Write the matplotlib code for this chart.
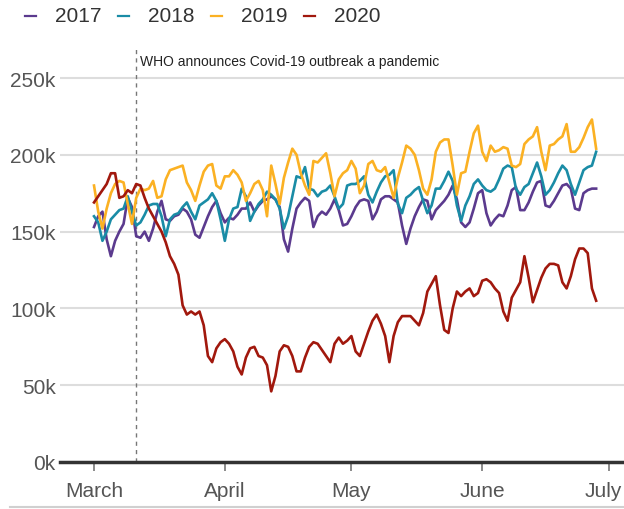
import matplotlib
matplotlib.use('Agg')
import matplotlib.pyplot as plt
import matplotlib.dates as mdates
from matplotlib.lines import Line2D
from matplotlib.transforms import ScaledTranslation
import pandas as pd

plt.rcParams['font.family'] = ['Liberation Sans', 'DejaVu Sans']

# daily values (thousands) from 1 March
days = pd.date_range('2020-03-01', periods=120, freq='D')

y2017 = [153, 160, 163, 145, 134, 144, 150, 155, 172, 166,
         147, 146, 150, 144, 152, 163, 170, 158, 157, 160,
         161, 165, 163, 158, 148, 146, 153, 160, 166, 170,
         162, 156, 159, 158, 161, 165, 165, 169, 163, 167,
         170, 171, 173, 171, 166, 145, 137, 152, 165, 169,
         172, 170, 153, 160, 163, 161, 165, 171, 164, 154,
         155, 160, 166, 170, 171, 170, 158, 163, 171, 173,
         173, 171, 169, 154, 142, 152, 160, 166, 171, 170,
         158, 164, 167, 170, 174, 180, 171, 156, 153, 156,
         165, 175, 177, 162, 154, 158, 161, 160, 167, 177,
         179, 164, 164, 169, 176, 182, 183, 167, 166, 170,
         175, 180, 181, 178, 165, 164, 175, 177, 178, 178]

y2018 = [160, 156, 144, 150, 158, 161, 164, 165, 173, 163,
         154, 156, 161, 167, 168, 168, 160, 147, 158, 161,
         162, 166, 169, 163, 158, 167, 169, 171, 175, 170,
         158, 144, 158, 165, 166, 178, 173, 157, 163, 168,
         171, 176, 174, 171, 165, 152, 160, 173, 186, 185,
         192, 178, 177, 173, 176, 177, 180, 173, 165, 168,
         180, 181, 181, 183, 186, 174, 169, 176, 182, 186,
         187, 190, 168, 162, 172, 174, 177, 179, 170, 162,
         167, 178, 178, 183, 189, 183, 167, 157, 167, 173,
         181, 184, 180, 177, 176, 178, 184, 191, 193, 192,
         178, 174, 179, 181, 188, 195, 186, 174, 177, 182,
         188, 193, 190, 181, 174, 182, 190, 192, 193, 202]

y2019 = [180, 163, 152, 165, 175, 181, 183, 182, 168, 155,
         172, 178, 177, 178, 183, 172, 173, 184, 190, 191,
         192, 193, 182, 177, 170, 180, 189, 193, 194, 180,
         178, 186, 186, 190, 187, 182, 170, 175, 181, 183,
         177, 160, 193, 181, 168, 185, 195, 204, 200, 188,
         180, 174, 196, 195, 198, 201, 188, 173, 184, 188,
         190, 196, 191, 175, 180, 194, 196, 190, 189, 192,
         182, 172, 185, 195, 206, 204, 200, 190, 178, 174,
         184, 202, 208, 210, 210, 193, 174, 188, 189, 202,
         214, 219, 202, 196, 206, 202, 203, 205, 204, 193,
         192, 194, 207, 210, 212, 218, 202, 190, 206, 207,
         210, 212, 220, 202, 202, 205, 211, 218, 223, 204]

y2020 = [169, 173, 177, 181, 188, 188, 172, 173, 177, 175,
         181, 180, 172, 165, 160, 155, 150, 143, 134, 129,
         122, 102, 96, 98, 96, 98, 89, 69, 65, 74,
         78, 80, 77, 72, 62, 57, 68, 74, 75, 69,
         68, 63, 46, 56, 72, 76, 75, 69, 59, 59,
         68, 75, 78, 77, 73, 69, 65, 77, 81, 77,
         79, 82, 72, 69, 77, 85, 92, 96, 90, 82,
         65, 82, 91, 95, 95, 95, 92, 89, 97, 111,
         116, 121, 102, 86, 84, 100, 111, 108, 111, 113,
         108, 110, 118, 119, 117, 113, 110, 98, 92, 107,
         112, 117, 134, 120, 104, 112, 120, 126, 129, 129,
         128, 117, 113, 121, 132, 139, 139, 136, 113, 105]

years = ['2017', '2018', '2019', '2020']
series = [y2017, y2018, y2019, y2020]
colors = ['#5b3a8e', '#1a8ca6', '#fbb123', '#a1180d']
month_starts = pd.to_datetime(['2020-03-01', '2020-04-01', '2020-05-01', '2020-06-01', '2020-07-01'])
month_labels = ['March', 'April', 'May', 'June', 'July']

W, H = 624, 510
fig = plt.figure(figsize=(W / 100, H / 100), dpi=100)
ax = fig.add_axes([60 / W, 47 / H, 564 / W, 415 / H])

for vals, col in zip(series, colors):
    ax.plot(days, vals, color=col, lw=1.9, solid_joinstyle='round')

start = pd.Timestamp('2020-03-01')
ax.set_xlim(start - pd.Timedelta(days=8.06), start + pd.Timedelta(days=125.6))
ax.set_ylim(0, 270.2)

who_day = pd.Timestamp('2020-03-11')
ax.axvline(who_day, color='#777777', lw=1, dashes=(3, 3), zorder=1)
ax.text(who_day + pd.Timedelta(days=1.0), 261, 'WHO announces Covid-19 outbreak a pandemic',
        fontsize=10, color='#222222', va='center', ha='left')

ax.set_yticks([0, 50, 100, 150, 200, 250])
ax.set_yticklabels([f'{v}k' for v in [0, 50, 100, 150, 200, 250]])
ax.yaxis.grid(True, color='#dddddd', lw=1.5)
ax.set_axisbelow(True)
ax.tick_params(axis='y', length=0, pad=3, labelsize=15, labelcolor='#555555')

ax.set_xticks(month_starts)
ax.set_xticklabels(month_labels)
ax.tick_params(axis='x', length=6.5, width=1.2, color='#777777', pad=7,
               labelsize=15, labelcolor='#555555')
# keep the last month label inside the canvas
last = ax.xaxis.get_major_ticks()[-1].label1
last.set_transform(last.get_transform() + ScaledTranslation(-6 / 100, 0, fig.dpi_scale_trans))

for s in ['top', 'right', 'left']:
    ax.spines[s].set_visible(False)
ax.spines['bottom'].set_color('#333333')
ax.spines['bottom'].set_linewidth(2.5)

# legend row
for i, (yr, col) in enumerate(zip(years, colors)):
    x0 = 25 + 93 * i
    fig.add_artist(Line2D([x0 / W, (x0 + 11) / W], [1 - 17 / H, 1 - 17 / H], color=col, lw=1.6))
    fig.text((x0 + 30) / W, 1 - 17 / H, yr, fontsize=15, color='#333333', va='center', ha='left')

fig.add_artist(Line2D([10 / W, 1], [2 / H, 2 / H], color='#d0d0d0', lw=1.5))

fig.savefig('out.png', dpi=100)
